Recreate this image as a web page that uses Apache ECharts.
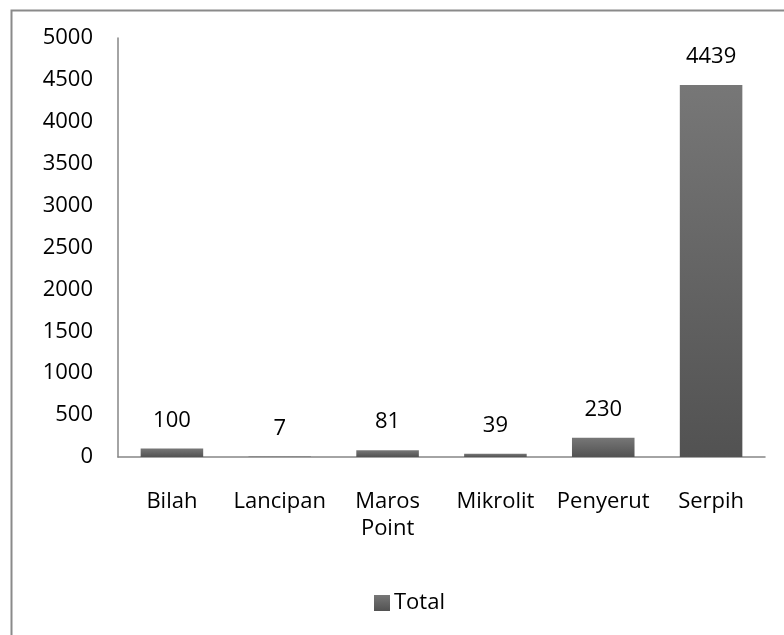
<!DOCTYPE html>
<html><head><meta charset="utf-8">
<script src="https://cdn.jsdelivr.net/npm/echarts@6/dist/echarts.min.js"></script>
<style>html,body{margin:0;padding:0;background:#fff}#c{width:784px;height:635px}</style>
</head><body><div id="c"></div>
<script>
var categories = ['Bilah', 'Lancipan', 'Maros\nPoint', 'Mikrolit', 'Penyerut', 'Serpih'];
var totals = [100, 7, 81, 39, 230, 4439];
var seriesName = 'Total';
var yTicks = {min: 0, max: 5000, interval: 500};

var FONT = '"Open Sans", sans-serif';
var FS = 22;
var chart = echarts.init(document.getElementById('c'), null, {renderer: 'canvas'});
var grad = new echarts.graphic.LinearGradient(0, 0, 0, 1, [
  {offset: 0, color: '#777777'}, {offset: 1, color: '#525252'}
]);
chart.setOption({
  animation: false,
  backgroundColor: '#fff',
  graphic: [{
    type: 'rect', left: 9, top: 8, silent: true,
    shape: {x: 0, y: 0, width: 800, height: 650},
    style: {fill: 'none', stroke: '#8a8a8a', lineWidth: 2}
  }],
  grid: {left: 118, right: 19, top: 38, bottom: 178, containLabel: false},
  legend: {
    data: [seriesName], bottom: 16, left: 369,
    icon: 'rect', itemWidth: 16, itemHeight: 16, itemGap: 4,
    textStyle: {fontFamily: FONT, fontSize: FS, color: '#000', padding: [0, 0, 0, -1]}
  },
  xAxis: {
    type: 'category', data: categories,
    axisLine: {lineStyle: {color: '#868686', width: 1.5}},
    axisTick: {show: false},
    axisLabel: {fontFamily: FONT, fontSize: FS, color: '#000', margin: 31, lineHeight: 27, interval: 0}
  },
  yAxis: {
    type: 'value', min: yTicks.min, max: yTicks.max, interval: yTicks.interval,
    axisLine: {show: true, lineStyle: {color: '#868686', width: 1.5}},
    axisTick: {show: false},
    splitLine: {show: false},
    axisLabel: {fontFamily: FONT, fontSize: FS, color: '#000', margin: 25, formatter: function (v) { return String(v); }}
  },
  series: [{
    name: seriesName, type: 'bar', data: totals, barWidth: '58%',
    itemStyle: {color: grad},
    label: {show: true, position: 'top', distance: 17, fontFamily: FONT, fontSize: FS, color: '#000'}
  }]
});
</script></body></html>
